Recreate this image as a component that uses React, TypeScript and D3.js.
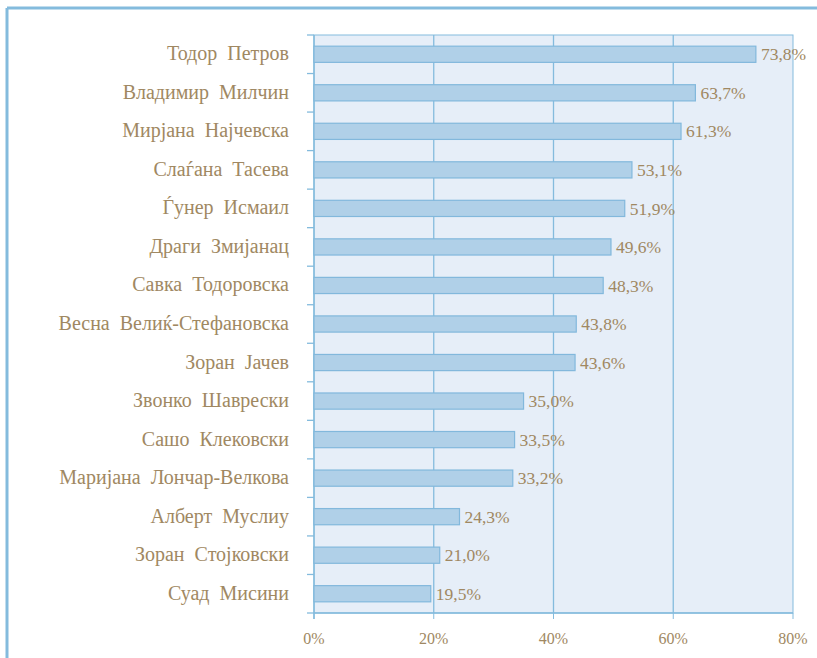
import React from "react";
import * as d3 from "d3";

const names = [
  "Тодор  Петров",
  "Владимир  Милчин",
  "Мирјана  Најчевска",
  "Слаѓана  Тасева",
  "Ѓунер  Исмаил",
  "Драги  Змијанац",
  "Савка  Тодоровска",
  "Весна  Велиќ-Стефановска",
  "Зоран  Јачев",
  "Звонко  Шавpески".replace("p", "р"),
  "Сашо  Клековски",
  "Маријана  Лончар-Велкова",
  "Алберт  Муслиу",
  "Зоран  Стојковски",
  "Суад  Мисини",
];
const values = [73.8, 63.7, 61.3, 53.1, 51.9, 49.6, 48.3, 43.8, 43.6, 35.0, 33.5, 33.2, 24.3, 21.0, 19.5];
const xTicks = [0, 20, 40, 60, 80];

const W = 817;
const H = 658;
const left = 314;
const right = 793;
const top = 35;
const bottom = 613;
const textColor = "#a08862";
const lineColor = "#84bbdd";
const font = "'Liberation Serif', serif";

export default function App() {
  const x = d3.scaleLinear().domain([0, 80]).range([left, right]);
  const y = d3.scaleBand<string>().domain(names).range([top, bottom]).paddingInner(0.58).paddingOuter(0.29);
  const band = (bottom - top) / names.length;
  const fmt = (v: number) => v.toFixed(1).replace(".", ",") + "%";
  const bounds = d3.range(names.length + 1).map((i) => top + i * band);
  return (
    <svg width={W} height={H} style={{ position: "absolute", left: 0, top: 0, fontFamily: font }}>
      <rect x={0} y={0} width={W} height={H} fill="#fff" />
      <line x1={7} x2={W} y1={8} y2={8} stroke={lineColor} strokeWidth={3} />
      <line x1={7} x2={7} y1={8} y2={H} stroke={lineColor} strokeWidth={3} />
      <rect x={left} y={top} width={right - left} height={bottom - top} fill="#e6eef8" stroke={lineColor} strokeWidth={1} />
      {xTicks.slice(1, -1).map((t) => (
        <line key={t} x1={x(t)} x2={x(t)} y1={top} y2={bottom} stroke={lineColor} strokeWidth={1.3} />
      ))}
      <line x1={left} x2={left} y1={top} y2={bottom + 6} stroke={lineColor} strokeWidth={1.5} />
      <line x1={left} x2={right} y1={bottom} y2={bottom} stroke={lineColor} strokeWidth={1.5} />
      {bounds.map((b, i) => (
        <line key={i} x1={left - 7} x2={left} y1={b} y2={b} stroke={lineColor} strokeWidth={1.3} />
      ))}
      {xTicks.map((t) => (
        <line key={t} x1={x(t)} x2={x(t)} y1={bottom} y2={bottom + 6} stroke={lineColor} strokeWidth={1} />
      ))}
      {names.map((n, i) => (
        <g key={n}>
          <rect
            x={x(0)}
            y={y(n)}
            width={x(values[i]) - x(0)}
            height={y.bandwidth()}
            fill="#b0d0e8"
            stroke="#82b8dc"
            strokeWidth={1.2}
          />
          <text x={x(values[i]) + 5} y={(y(n) as number) + y.bandwidth() / 2} dy="0.35em" fontSize={17.5} fill={textColor}>
            {fmt(values[i])}
          </text>
          <text
            x={289}
            y={(y(n) as number) + y.bandwidth() / 2}
            dy="0.3em"
            textAnchor="end"
            fontSize={20}
            fill={textColor}
            xmlSpace="preserve"
          >
            {n}
          </text>
        </g>
      ))}
      {xTicks.map((t) => (
        <text key={t} x={x(t)} y={bottom + 25} dy="0.35em" textAnchor="middle" fontSize={16} fill={textColor}>
          {t + "%"}
        </text>
      ))}
    </svg>
  );
}
